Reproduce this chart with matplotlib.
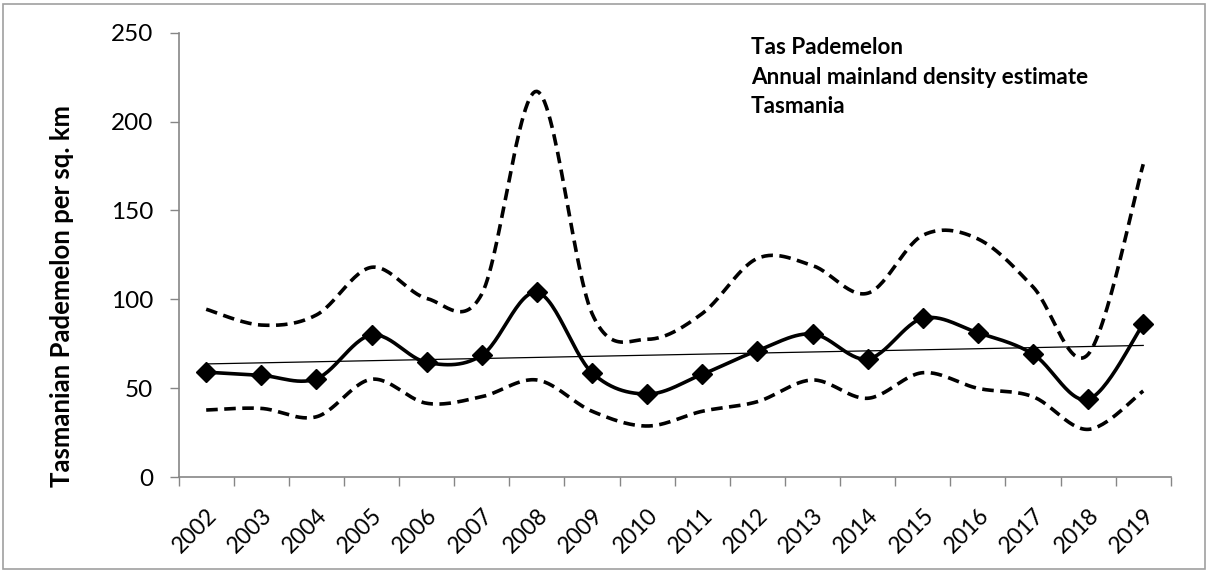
import matplotlib.pyplot as plt
import numpy as np
from matplotlib.patches import Rectangle

plt.rcParams['font.family'] = ['Lato', 'DejaVu Sans']

years = [str(y) for y in range(2002, 2020)]
density = [59.0, 57.2, 55.3, 79.9, 64.5, 68.5, 103.9, 58.7, 46.7,
           57.8, 71.1, 80.5, 66.4, 89.3, 81.2, 69.2, 43.7, 86.1]
upper = [94.4, 85.5, 91.2, 118.0, 100.5, 103.0, 217.0, 92.0, 77.5,
         92.0, 123.0, 119.0, 103.4, 136.0, 134.0, 107.0, 69.0, 176.0]
lower = [37.7, 38.6, 33.9, 55.0, 41.5, 45.2, 54.6, 37.0, 28.7,
         37.0, 42.4, 54.6, 44.3, 58.7, 49.9, 45.2, 26.8, 48.4]
title_lines = ['Tas Pademelon', 'Annual mainland density estimate', 'Tasmania']


def smooth(x, y, n=30):
    # excel style smoothed line (bezier through the points)
    x = np.asarray(x, float)
    y = np.asarray(y, float)
    px = np.concatenate([[x[0]], x, [x[-1]]])
    py = np.concatenate([[y[0]], y, [y[-1]]])
    t = np.linspace(0, 1, n)[:, None]
    xs, ys = [], []
    for i in range(1, len(px) - 2):
        p0 = np.array([px[i], py[i]])
        p3 = np.array([px[i + 1], py[i + 1]])
        c1 = p0 + (np.array([px[i + 1], py[i + 1]]) - np.array([px[i - 1], py[i - 1]])) / 6
        c2 = p3 - (np.array([px[i + 2], py[i + 2]]) - p0) / 6
        b = (1 - t) ** 3 * p0 + 3 * (1 - t) ** 2 * t * c1 + 3 * (1 - t) * t ** 2 * c2 + t ** 3 * p3
        xs.append(b[:, 0])
        ys.append(b[:, 1])
    return np.concatenate(xs), np.concatenate(ys)


fig = plt.figure(figsize=(12.07, 5.71), dpi=100)
ax = fig.add_axes([0.148, 0.1646, 0.822, 0.7781])

x = np.arange(len(years))
dash = (0, (3.2, 1.8))
sx, sy = smooth(x, upper)
ax.plot(sx, sy, color='black', lw=2.6, linestyle=dash)
sx, sy = smooth(x, lower)
ax.plot(sx, sy, color='black', lw=2.6, linestyle=dash)
sx, sy = smooth(x, density)
ax.plot(sx, sy, color='black', lw=2.6)
ax.plot(x, density, linestyle='none', marker='D', color='black', markersize=10)

# linear trend
k, c = np.polyfit(x, density, 1)
ax.plot(x, k * x + c, color='black', lw=0.9)

ax.set_xlim(-0.5, len(years) - 0.5)
ax.set_ylim(0, 250)
ax.set_yticks([0, 50, 100, 150, 200, 250])
ax.set_xticks(np.arange(len(years) + 1) - 0.5)
ax.set_xticklabels([])
ax.set_xticks(x, minor=True)
ax.set_xticklabels(years, minor=True, rotation=45, ha='right', va='top',
                   rotation_mode='anchor', fontsize=16.5)
ax.tick_params(axis='x', which='minor', length=0, pad=20)
ax.tick_params(axis='both', which='major', length=6.5, color='#868686', width=1)
ax.tick_params(axis='y', labelsize=17.5, pad=12)
for s in ['top', 'right']:
    ax.spines[s].set_visible(False)
for s in ['left', 'bottom']:
    ax.spines[s].set_color('#868686')
    ax.spines[s].set_linewidth(1.2)

fig.text(62 / 1207, 1 - 296 / 571, 'Tasmanian Pademelon per sq. km', rotation=90,
         ha='center', va='center', fontsize=18.5, fontweight='bold')

for i, line in enumerate(title_lines):
    fig.text(751 / 1207, 1 - (54 + 29.5 * i) / 571, line, ha='left', va='baseline',
             fontsize=16.2, fontweight='bold')

fig.patches.append(Rectangle((3 / 1207, 2 / 571), 1202 / 1207, 565 / 571,
                             transform=fig.transFigure, fill=False,
                             edgecolor='#a0a0a0', lw=1.2))

fig.savefig('out.png', dpi=100)
